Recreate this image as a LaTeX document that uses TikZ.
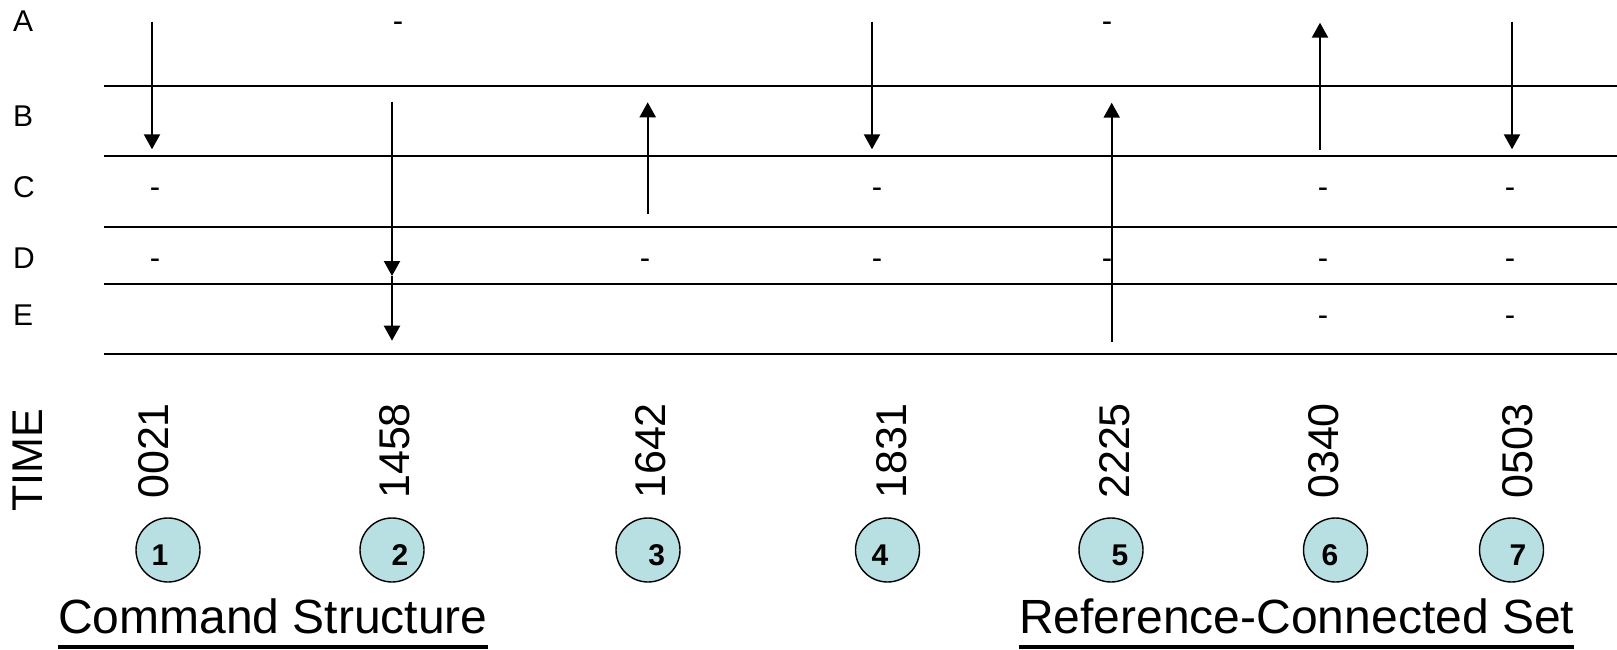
\documentclass[tikz,border=0pt]{standalone}
\usepackage{fontspec}
\setmainfont{Liberation Sans}
\usetikzlibrary{arrows.meta,calc}
\definecolor{cfill}{RGB}{184,224,227}
\begin{document}
\begin{tikzpicture}[x=1pt,y=-1pt,
  hline/.style={line width=2.9pt},
  arr/.style={line width=2.2pt,-{Triangle[width=16pt,length=15pt]}},
  rowlab/.style={font=\fontsize{30}{36}\selectfont, anchor=base west, inner sep=0},
  dashmark/.style={font=\fontsize{31}{36}\selectfont, anchor=base, inner sep=0},
  timelab/.style={font=\fontsize{43}{50}\selectfont, rotate=90, anchor=west, inner sep=0},
  stepcirc/.style={circle, draw, line width=1.4pt, fill=cfill, minimum size=64pt, inner sep=0},
  stepnum/.style={font=\fontsize{30}{36}\selectfont\bfseries, inner sep=0},
  ttl/.style={font=\fontsize{48}{56}\selectfont, anchor=base west, inner sep=0},
  uline/.style={line width=4pt}]
\useasboundingbox (0,0) rectangle (1617,650);

% horizontal lines
\foreach \i/\y in {1/86,2/156,3/227,4/284,5/354}{
  \coordinate (L\i) at (104,\y);
  \coordinate (R\i) at (1617,\y);
  \draw[hline] (L\i) -- (R\i);
}

% row labels
\node[rowlab] (lA) at (13,31.7) {A};
\node[rowlab] (lB) at (13,126.7) {B};
\node[rowlab] (lC) at (13,197) {C};
\node[rowlab] (lD) at (13,268) {D};
\node[rowlab] (lE) at (13,325) {E};

% dashes
\node[dashmark] (dA2) at (398,31.7) {-};
\node[dashmark] (dA5) at (1107,31.7) {-};
\node[dashmark] (dC1) at (155,197) {-};
\node[dashmark] (dC4) at (877,197) {-};
\node[dashmark] (dC6) at (1323,197) {-};
\node[dashmark] (dC7) at (1510,197) {-};
\node[dashmark] (dD1) at (155,268) {-};
\node[dashmark] (dD3) at (645,268) {-};
\node[dashmark] (dD4) at (877,268) {-};
\node[dashmark] (dD5) at (1107,268) {-};
\node[dashmark] (dD6) at (1323,268) {-};
\node[dashmark] (dD7) at (1510,268) {-};
\node[dashmark] (dE6) at (1323,325) {-};
\node[dashmark] (dE7) at (1510,325) {-};

% arrow end points
\coordinate (a1s) at (152,21.7);   \coordinate (a1e) at (152,149.3);
\coordinate (a2s) at (392,101.7);  \coordinate (a2m) at (392,276);
\coordinate (a2e) at (392,340.7);
\coordinate (a3s) at (647.7,214.3); \coordinate (a3e) at (647.7,102.3);
\coordinate (a4s) at (872,21.7);   \coordinate (a4e) at (872,149.3);
\coordinate (a5s) at (1111.7,342.3); \coordinate (a5e) at (1111.7,102.7);
\coordinate (a6s) at (1320,150);   \coordinate (a6e) at (1320,22.7);
\coordinate (a7s) at (1512,21.7);  \coordinate (a7e) at (1512,149.3);

\draw[arr] (a1s) -- (a1e);
\draw[arr] (a2s) -- (a2m);
\draw[arr] (a2m) -- (a2e);
\draw[arr] (a3s) -- (a3e);
\draw[arr] (a4s) -- (a4e);
\draw[arr] (a5s) -- (a5e);
\draw[arr] (a6s) -- (a6e);
\draw[arr] (a7s) -- (a7e);

% time labels
\node[timelab] (time) at (27.5,512) {TIME};
\node[timelab] (t1) at (154,499) {0021};
\node[timelab] (t2) at (395,499) {1458};
\node[timelab] (t3) at (651,499) {1642};
\node[timelab] (t4) at (892,499) {1831};
\node[timelab] (t5) at (1115,499) {2225};
\node[timelab] (t6) at (1324,499) {0340};
\node[timelab] (t7) at (1518,499) {0503};

% step circles
\foreach \i/\cx/\nx in {1/168/160,2/392/400,3/648/656.7,4/887.5/880,5/1111/1120,6/1335.5/1330,7/1511.5/1518}{
  \node[stepcirc] (c\i) at (\cx,550) {};
  \node[stepnum] (n\i) at (\nx,555) {\i};
}

% titles
\node[ttl] (cs) at (58,633) {Command Structure};
\draw[uline] ($(cs.base west)+(0,13.7)$) -- ($(cs.base east)+(0,13.7)$);
\node[ttl] (rcs) at (1019,633) {Reference-Connected Set};
\draw[uline] ($(rcs.base west)+(0,13.7)$) -- ($(rcs.base east)+(0,13.7)$);
\end{tikzpicture}
\end{document}
